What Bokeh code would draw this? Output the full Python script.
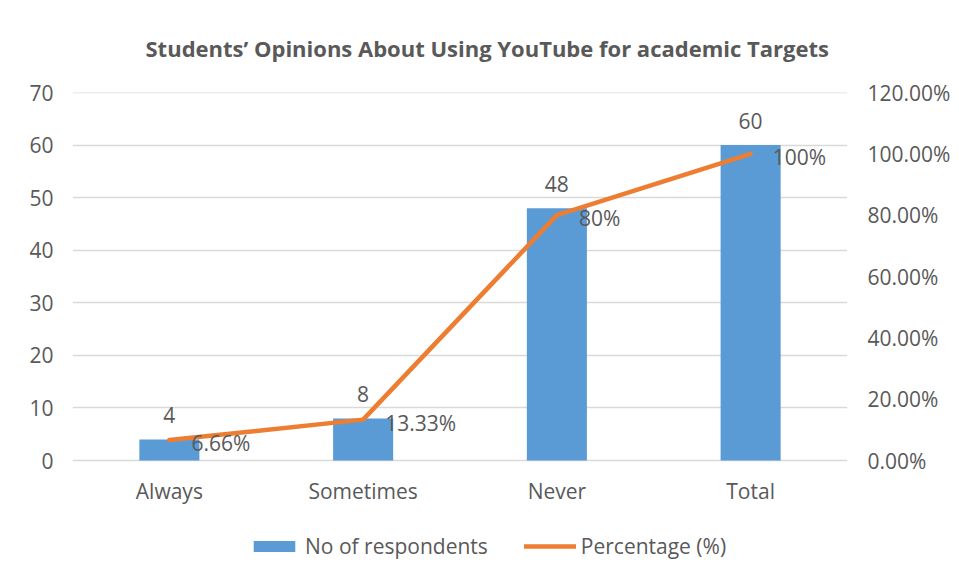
from bokeh.plotting import figure
from bokeh.models import (FactorRange, Range1d, LinearAxis, FixedTicker, NumeralTickFormatter,
                          ColumnDataSource, LabelSet, Legend, LegendItem, Span)
from bokeh.core.properties import value
from bokeh.embed import file_html
from bokeh.resources import INLINE

categories = ["Always", "Sometimes", "Never", "Total"]
respondents = [4, 8, 48, 60]
percentage = [0.0666, 0.1333, 0.80, 1.00]
pct_labels = ["6.66%", "13.33%", "80%", "100%"]
left_ticks = [0, 10, 20, 30, 40, 50, 60, 70]
right_ticks = [0.0, 0.2, 0.4, 0.6, 0.8, 1.0, 1.2]
title_text = "Students\u2019 Opinions About Using YouTube for academic Targets"

FONT = "Open Sans"
TXT = "#595959"
BLUE = "#5B9BD5"
ORANGE = "#ED7D31"
GRID = "#D9D9D9"
FS = "21px"

# layout: plotting area 368px tall, plus 113px below it for axis labels and legend
PLOT_H = 368
BELOW_H = 113
ymax = left_ticks[-1]
pmax = right_ticks[-1]
ymin = -ymax * BELOW_H / PLOT_H
pmin = -pmax * BELOW_H / PLOT_H

p = figure(x_range=FactorRange(factors=categories), y_range=Range1d(ymin, ymax),
           frame_width=775, frame_height=PLOT_H + BELOW_H,
           min_border_left=72, min_border_right=104, min_border_top=92, min_border_bottom=0,
           output_backend="svg", toolbar_location=None, title=title_text)
p.extra_y_ranges = {"pct": Range1d(pmin, pmax)}
p.outline_line_color = None
p.background_fill_color = "white"
p.border_fill_color = "white"

p.title.align = "left"
p.title.offset = 73
p.title.text_font = FONT
p.title.text_font_size = "22px"
p.title.text_font_style = "bold"
p.title.text_color = TXT
p.title.standoff = 60

src = ColumnDataSource(dict(x=categories, y=respondents, pct=percentage,
                            lab=[str(v) for v in respondents], plab=pct_labels))

bars = p.vbar(x="x", top="y", bottom=0, width=0.31, source=src, fill_color=BLUE, line_color=None)
line = p.line(x="x", y="pct", source=src, y_range_name="pct", line_color=ORANGE,
              line_width=4.5, line_cap="round", line_join="round")

# axes
la = p.yaxis[0]
la.ticker = FixedTicker(ticks=left_ticks)
ra = LinearAxis(y_range_name="pct", ticker=FixedTicker(ticks=right_ticks),
                formatter=NumeralTickFormatter(format="0.00%"))
p.add_layout(ra, "right")
xa = p.xaxis[0]
xa.fixed_location = 0
for ax in [la, ra, xa]:
    ax.axis_line_color = None
    ax.major_tick_line_color = None
    ax.minor_tick_line_color = None
    ax.major_label_text_font = FONT
    ax.major_label_text_font_size = FS
    ax.major_label_text_color = TXT
la.major_label_standoff = 13
ra.major_label_standoff = 14
xa.major_label_standoff = 10

p.xgrid.grid_line_color = None
p.ygrid.grid_line_color = GRID
p.ygrid.grid_line_width = 1.5
p.ygrid.ticker = FixedTicker(ticks=left_ticks)
p.add_layout(Span(location=left_ticks[-1], dimension="width", line_color=GRID, line_width=1.5))

bar_labels = LabelSet(x="x", y="y", text="lab", source=src, text_align="center",
                      text_baseline="middle", y_offset=24, text_font=value(FONT),
                      text_font_size=value(FS), text_color=TXT)
pct_lbls = LabelSet(x="x", y="pct", text="plab", source=src, y_range_name="pct",
                    text_align="left", text_baseline="middle", x_offset=22, y_offset=-3,
                    text_font=value(FONT), text_font_size=value(FS), text_color=TXT)
p.add_layout(bar_labels)
p.add_layout(pct_lbls)

legend = Legend(items=[LegendItem(label="No of respondents", renderers=[bars]),
                       LegendItem(label="Percentage (%)", renderers=[line])],
                orientation="horizontal", location=(176, 13))
legend.border_line_color = None
legend.background_fill_alpha = 0
legend.label_text_font = FONT
legend.label_text_font_size = FS
legend.label_text_color = TXT
legend.glyph_width = 52
legend.glyph_height = 14
legend.label_standoff = 5
legend.spacing = 36
legend.margin = 0
legend.padding = 4
p.add_layout(legend, "center")

open("out.html", "w").write(file_html(p, INLINE))
